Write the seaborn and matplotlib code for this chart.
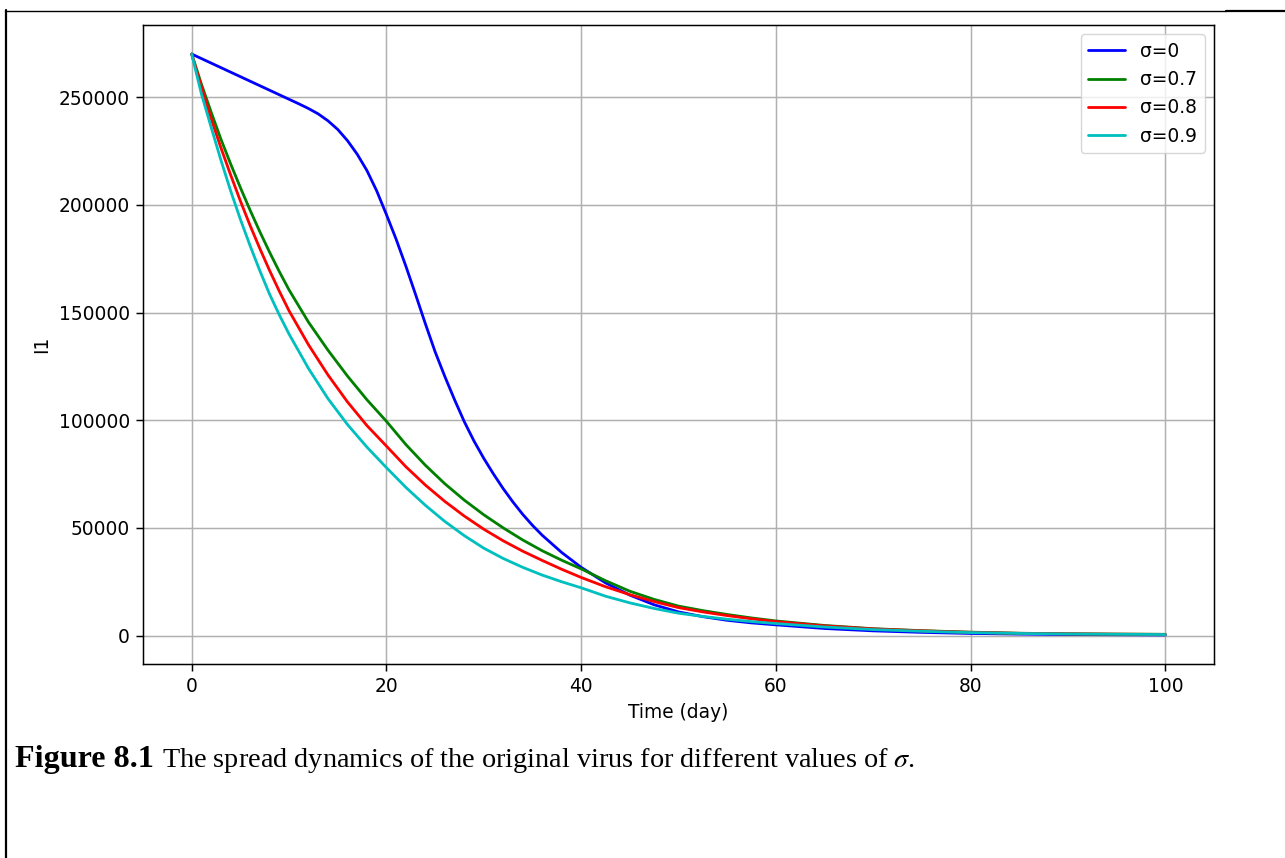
import pandas as pd
import seaborn as sns
import matplotlib.pyplot as plt
from matplotlib.lines import Line2D

# values
days_s0 = [0, 2, 4, 6, 8, 10, 11, 12, 13, 14, 15, 16, 17, 18, 19, 20, 21, 22, 23, 24, 25, 26,
           27, 28, 29, 30, 31, 32, 33, 34, 35, 36, 38, 40, 42.5, 45, 47.5, 50, 52.5, 55, 57.5,
           60, 65, 70, 75, 80, 85, 90, 95, 100]
infected_s0 = [270000, 265800, 261600, 257400, 253200, 249000, 246900, 244700, 242200, 239000,
               235000, 229800, 223500, 215900, 206500, 195500, 184000, 171500, 158300, 144800,
               131800, 120300, 109500, 99300, 90300, 82300, 75000, 68200, 62000, 56300, 51200,
               46600, 38600, 31700, 24500, 18800, 14300, 11000, 8800, 7100, 5900,
               5000, 3300, 2200, 1500, 1000, 700, 500, 400, 300]

days = [0, 1, 2, 3, 4, 5, 6, 7, 8, 9, 10, 12, 14, 16, 18, 20, 22, 24, 26, 28, 30, 32, 34, 36,
        38, 40, 42.5, 45, 47.5, 50, 52.5, 55, 57.5, 60, 65, 70, 75, 80, 85, 90, 95, 100]
infected_s07 = [270000, 256000, 243000, 230500, 219000, 208000, 197500, 187500, 178000, 169000,
                160500, 145500, 132500, 120500, 109500, 99500, 88700, 79100, 70500, 62900,
                56100, 50000, 44400, 39400, 35000, 31000, 25500, 20600, 16800, 13700, 11600,
                9800, 8200, 6800, 4700, 3200, 2300, 1600, 1100, 850, 700, 600]
infected_s08 = [270000, 254800, 240000, 226500, 213900, 201800, 190400, 179700, 169500, 159900,
                150800, 135000, 121000, 108500, 97500, 88000, 78400, 69900, 62300, 55500,
                49400, 44000, 39200, 34900, 30800, 27000, 22700, 19000, 15800, 13000, 11000,
                9300, 7800, 6500, 4500, 3100, 2200, 1500, 1050, 800, 650, 550]
infected_s09 = [270000, 251500, 236000, 220800, 206500, 193300, 181000, 169400, 158500, 148900,
                140000, 124000, 110000, 98000, 87500, 78000, 68800, 60500, 53000, 46400,
                40600, 35800, 31700, 28100, 25000, 22200, 18300, 15200, 12600, 10400, 8900,
                7600, 6500, 5600, 4000, 2800, 2000, 1400, 1000, 750, 600, 500]

labels = ["σ=0", "σ=0.7", "σ=0.8", "σ=0.9"]
colors = ["b", "g", "r", "c"]

SCALE = 1.34
sns.set_style("ticks")
plt.rcParams.update({
    "font.family": ["DejaVu Sans"],
    "font.size": 10 * SCALE,
    "text.color": "black",
    "axes.labelcolor": "black",
    "axes.linewidth": 0.8 * SCALE,
    "xtick.major.width": 0.8 * SCALE,
    "ytick.major.width": 0.8 * SCALE,
    "xtick.major.size": 3.5 * SCALE,
    "ytick.major.size": 3.5 * SCALE,
    "xtick.major.pad": 3.5 * SCALE,
    "ytick.major.pad": 3.5 * SCALE,
    "xtick.color": "black",
    "ytick.color": "black",
    "axes.edgecolor": "black",
    "grid.color": "#b0b0b0",
    "grid.linewidth": 0.8 * SCALE,
    "mathtext.fontset": "stix",
})

fig = plt.figure(figsize=(12.85, 8.58), dpi=100)
ax = fig.add_axes([143 / 1285, 1 - 664 / 858, (1214 - 143) / 1285, (664 - 25) / 858])

series = [(days_s0, infected_s0), (days, infected_s07), (days, infected_s08), (days, infected_s09)]
for (x, y), lab, col in zip(series, labels, colors):
    df = pd.DataFrame({"Time (day)": x, "I1": y})
    sns.lineplot(data=df, x="Time (day)", y="I1", color=col, label=lab, linewidth=1.5 * SCALE, ax=ax)

ax.grid(True)
ax.tick_params(labelsize=10 * SCALE)
ax.set_xlabel("Time (day)", fontsize=10 * SCALE, labelpad=4 * SCALE)
ax.set_ylabel("I1", fontsize=10 * SCALE, labelpad=4 * SCALE)
ax.legend(loc="upper right", fontsize=10 * SCALE, framealpha=0.8, edgecolor="0.8", fancybox=True)

# page frame lines
fig.add_artist(Line2D([5 / 1285, 1226 / 1285], [1 - 11 / 858, 1 - 11 / 858], color="black", lw=1.0))
fig.add_artist(Line2D([1226 / 1285, 1], [1 - 11 / 858, 1 - 11 / 858], color="black", lw=1.6))
fig.add_artist(Line2D([5.5 / 1285, 5.5 / 1285], [1 - 10 / 858, 0], color="black", lw=1.6))

# caption: bold label + regular text, each sized to the width it takes in the document
cap_bold = "Figure 8.1"
cap_rest = r"The spread dynamics of the original virus for different values of $\sigma$."
y_base = 858 - 767
renderer = fig.canvas.get_renderer()


def fitted_size(text, weight, width):
    t = fig.text(0, 0, text, family="Liberation Serif", weight=weight, fontsize=20)
    w = t.get_window_extent(renderer).width
    t.remove()
    return 20 * width / w


fig.text(15 / 1285, y_base / 858, cap_bold, family="Liberation Serif", weight="bold",
         fontsize=fitted_size(cap_bold, "bold", 139), va="baseline", ha="left")
fig.text(162 / 1285, y_base / 858, cap_rest, family="Liberation Serif",
         fontsize=fitted_size(cap_rest, "normal", 753), va="baseline", ha="left")

fig.savefig("out.png", dpi=100)
